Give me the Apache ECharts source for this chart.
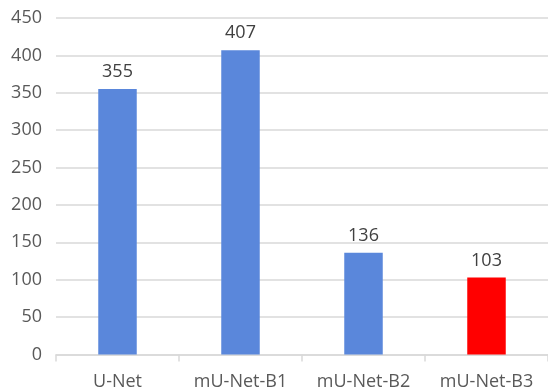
<!DOCTYPE html>
<html>
<head>
<meta charset="utf-8">
<script src="https://cdn.jsdelivr.net/npm/echarts@6/dist/echarts.min.js"></script>
<style>
  html, body { margin: 0; padding: 0; background: #fff; }
  #chart { width: 548px; height: 391px; }
</style>
</head>
<body>
<div id="chart"></div>
<script>
// Model names along the category axis
const categories = ['U-Net', 'mU-Net-B1', 'mU-Net-B2', 'mU-Net-B3'];
// Value per model
const values = [355, 407, 136, 103];
// Bar fill per model (the last one is highlighted)
const barColors = ['#5A87DB', '#5A87DB', '#5A87DB', '#FF0000'];
// Value axis range and step
const yMin = 0;
const yMax = 450;
const yStep = 50;

const FONT = '"Open Sans", "DejaVu Sans", sans-serif';

const chart = echarts.init(document.getElementById('chart'), null, { renderer: 'canvas' });

chart.setOption({
  animation: false,
  backgroundColor: '#ffffff',
  grid: { left: 56, right: -5, top: 18, bottom: 36.5, containLabel: false },
  xAxis: {
    type: 'category',
    data: categories,
    axisLine: { show: true, lineStyle: { color: '#D9D9D9', width: 1.5 } },
    axisTick: { show: true, alignWithLabel: false, length: 7, lineStyle: { color: '#D9D9D9', width: 1.5 } },
    axisLabel: { color: '#595959', fontSize: 18, fontFamily: FONT, margin: 18 },
    splitLine: { show: false }
  },
  yAxis: {
    type: 'value',
    min: yMin,
    max: yMax,
    interval: yStep,
    axisLine: { show: false },
    axisTick: { show: false },
    axisLabel: { color: '#595959', fontSize: 18, fontFamily: FONT, margin: 14 },
    splitLine: { show: true, lineStyle: { color: '#D9D9D9', width: 1.5 } }
  },
  series: [{
    type: 'bar',
    data: values.map((v, i) => ({ value: v, itemStyle: { color: barColors[i] } })),
    barWidth: 38.5,
    label: {
      show: true,
      position: 'top',
      distance: 8,
      color: '#404040',
      fontSize: 18,
      fontFamily: FONT
    }
  }]
});
</script>
</body>
</html>
